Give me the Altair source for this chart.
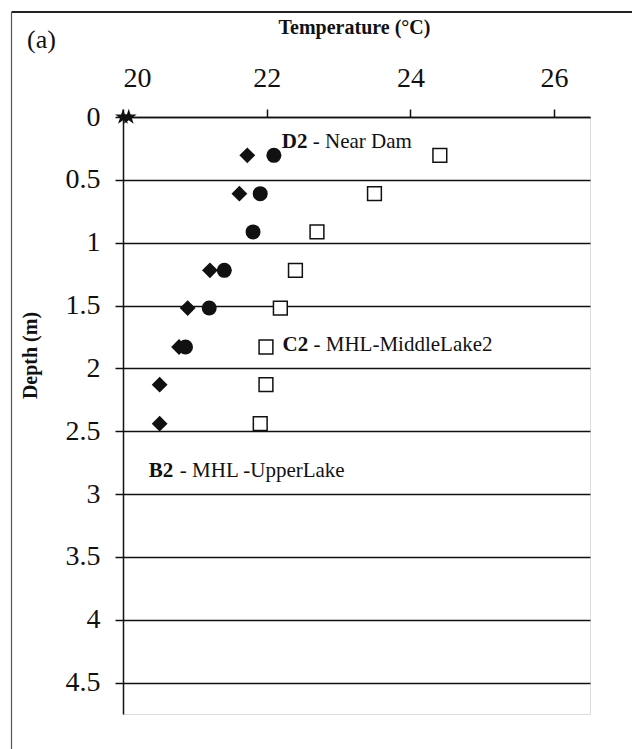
import altair as alt
import pandas as pd

# depths (m) – one-foot sampling intervals
depths = [0.305, 0.61, 0.914, 1.22, 1.52, 1.83, 2.13, 2.44]

# filled diamonds
diamond_depth = [0.305, 0.61, 1.22, 1.52, 1.83, 2.13, 2.44]
diamond_temp = [21.73, 21.62, 21.21, 20.90, 20.78, 20.51, 20.51]

# filled circles
circle_depth = [0.305, 0.61, 0.914, 1.22, 1.52, 1.83]
circle_temp = [22.10, 21.91, 21.81, 21.41, 21.20, 20.87]

# open squares
square_depth = depths
square_temp = [24.41, 23.50, 22.70, 22.40, 22.19, 21.99, 21.99, 21.91]

# star markers at the surface
star_depth = [0.0, 0.0]
star_temp = [20.0, 20.08]

x_ticks = [20, 22, 24, 26]
y_ticks = [0, 0.5, 1, 1.5, 2, 2.5, 3, 3.5, 4, 4.5]

# annotation labels
lab_bold = ["D2", "C2", "B2"]
lab_rest = ["- Near Dam", "- MHL-MiddleLake2", "- MHL -UpperLake"]
lab_temp = [22.21, 22.22, 20.36]
lab_depth = [0.20, 1.815, 2.82]

SERIF = "Liberation Serif"
INK = "#111111"
STAR = ("M0,-1L0.22,-0.3L0.95,-0.31L0.36,0.12L0.59,0.81L0,0.38L-0.59,0.81"
        "L-0.36,0.12L-0.95,-0.31L-0.22,-0.3Z")

df_d = pd.DataFrame({"temp": diamond_temp, "depth": diamond_depth})
df_c = pd.DataFrame({"temp": circle_temp, "depth": circle_depth})
df_s = pd.DataFrame({"temp": square_temp, "depth": square_depth})
df_st = pd.DataFrame({"temp": star_temp, "depth": star_depth})
df_l = pd.DataFrame({"bold": lab_bold, "rest": lab_rest, "temp": lab_temp,
                     "depth": lab_depth})
one = pd.DataFrame({"k": [0]})

xs = alt.Scale(domain=[20, 26.5], nice=False, zero=False)
ys = alt.Scale(domain=[0, 4.75], nice=False, zero=False, reverse=True)

xenc = alt.X("temp:Q", scale=xs, axis=alt.Axis(
    orient="top", values=x_ticks, format="d", title="Temperature (°C)", grid=False,
    tickSize=8, tickColor=INK, tickWidth=1.5, domainColor=INK, domainWidth=1.5,
    labelFont=SERIF, labelFontSize=28, labelColor=INK, labelPadding=23,
    labelBaseline="alphabetic",
    titleFont=SERIF, titleFontSize=20, titleFontWeight="bold", titleColor=INK,
    titleX=231, titleY=-80))
yenc = alt.Y("depth:Q", scale=ys, axis=alt.Axis(
    values=y_ticks, format="~g", title="Depth (m)", grid=True, gridColor=INK,
    gridWidth=1.5, gridOpacity=1, tickSize=8, tickColor=INK, tickWidth=1.5,
    domainColor=INK, domainWidth=1.5,
    labelFont=SERIF, labelFontSize=28, labelColor=INK, labelPadding=15,
    labelFlush=False, labelOverlap=False,
    titleFont=SERIF, titleFontSize=20, titleFontWeight="bold", titleColor=INK,
    titleX=-93, titleY=238, titleAngle=270, titleBaseline="middle"))

top_edge = alt.Chart(one).mark_rule(color="#222222", strokeWidth=2).encode(
    x=alt.value(-111.5), x2=alt.value(520), y=alt.value(-105))
left_edge = alt.Chart(one).mark_rule(color="#555555", strokeWidth=1.2).encode(
    x=alt.value(-111.5), y=alt.value(-105), y2=alt.value(640))

panel = alt.Chart(one).mark_text(font=SERIF, fontSize=26, fontWeight="normal",
                                 color=INK, align="left", baseline="middle").encode(
    x=alt.value(-96), y=alt.value(-77), text=alt.value("(a)"))

diam = alt.Chart(df_d).mark_point(shape="diamond", filled=True, color=INK, size=250,
                                  opacity=1).encode(x=xenc, y=yenc)
circ = alt.Chart(df_c).mark_point(shape="circle", filled=True, color=INK, size=225,
                                  opacity=1).encode(x="temp:Q", y="depth:Q")
sq = alt.Chart(df_s).mark_point(shape="square", filled=False, color=INK, fill="white",
                                fillOpacity=1, strokeWidth=1.5, size=190,
                                opacity=1).encode(x="temp:Q", y="depth:Q")
star = alt.Chart(df_st).mark_point(shape=STAR, filled=True, color=INK, size=280,
                                   opacity=1).encode(x="temp:Q", y="depth:Q")

lb = alt.Chart(df_l).mark_text(font=SERIF, fontSize=21, fontWeight="bold", color=INK,
                               align="left", baseline="middle").encode(
    x="temp:Q", y="depth:Q", text="bold:N")
lr = alt.Chart(df_l).mark_text(font=SERIF, fontSize=21, fontWeight="normal", color=INK,
                               align="left", baseline="middle", dx=31).encode(
    x="temp:Q", y="depth:Q", text="rest:N")

chart = alt.layer(diam, top_edge, left_edge, panel, circ, sq, star, lb, lr).properties(
    width=467, height=597,
    autosize=alt.AutoSizeParams(type="none"),
    padding={"left": 123, "top": 117, "right": 42, "bottom": 35},
).configure_view(strokeWidth=0, strokeOpacity=0).configure(background="white")

chart.save("out.html", embed_options={"renderer": "svg", "actions": False})
